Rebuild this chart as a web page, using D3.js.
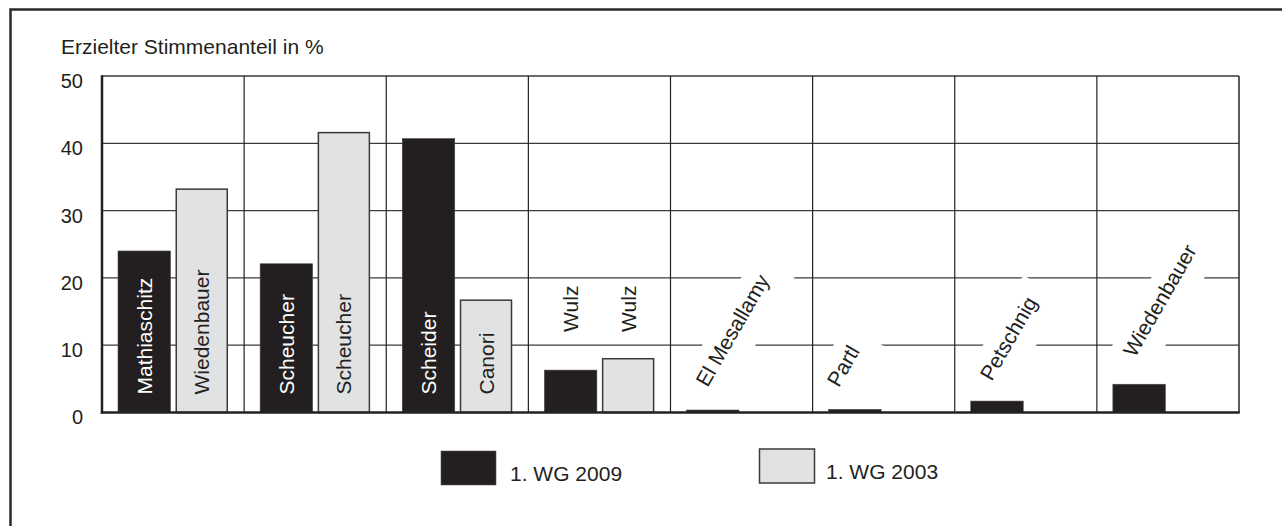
<!DOCTYPE html>
<html><head><meta charset="utf-8">
<script src="https://cdn.jsdelivr.net/npm/d3@7"></script>
<style>
body{margin:0;background:#fff}
text{font-family:"Liberation Sans",Arial,Helvetica,sans-serif}
</style>
</head><body>
<svg id="c" width="1282" height="526"></svg>
<script>
// ---------- data ----------
const groups = ["g1","g2","g3","g4","g5","g6","g7","g8"];
const names2009 = ["Mathiaschitz","Scheucher","Scheider","Wulz","El Mesallamy","Partl","Petschnig","Wiedenbauer"];
const names2003 = ["Wiedenbauer","Scheucher","Canori","Wulz",null,null,null,null];
const values2009 = [24.0, 22.1, 40.7, 6.3, 0.37, 0.47, 1.7, 4.2];
const values2003 = [33.3, 41.7, 16.8, 8.1, null, null, null, null];
const seriesNames = ["1. WG 2009", "1. WG 2003"];
const yTicks = [0, 10, 20, 30, 40, 50];
const axisTitle = "Erzielter Stimmenanteil in %";

// ---------- layout / style ----------
const labelMode = ["inside","inside","inside","above","angled","angled","angled","angled"];
const angledNudge = [null,null,null,null,[21,-22],[10,-21],[21,-19],[22,-26]];
const colors = {dark:"#231f20", light:"#e1e2e4", grid:"#3a3a3a", text:"#231f20"};
const plot = {left:102, right:1239, top:76, bottom:412.5};
const FS = 21;

const svg = d3.select("#c");

// outer frame
svg.append("rect").attr("x",10.5).attr("y",9.5).attr("width",1400).attr("height",700)
  .attr("fill","none").attr("stroke","#2a2a2a").attr("stroke-width",2.5);

const x0 = d3.scaleBand().domain(groups).range([plot.left, plot.right]).padding(0);
const x1 = d3.scaleBand().domain(["s2009","s2003"]).range([16, 126]).paddingInner(0.087).paddingOuter(0);
const y = d3.scaleLinear().domain([0, 50]).range([plot.bottom, plot.top]);

// title
svg.append("text").attr("x",61).attr("y",54).attr("font-size",FS).attr("fill",colors.text).text(axisTitle);

// horizontal gridlines
const gH = svg.append("g");
gH.selectAll("line").data(yTicks.filter(d=>d>0)).join("line")
  .attr("x1",plot.left).attr("x2",plot.right)
  .attr("y1",d=>y(d)).attr("y2",d=>y(d))
  .attr("stroke",colors.grid).attr("stroke-width",d=>d===50?1.6:1.2);

// y tick labels
const yAxis = d3.axisLeft(y).tickValues(yTicks).tickSize(0).tickPadding(0).tickFormat(d3.format("d"));
const ga = svg.append("g").attr("transform",`translate(${plot.left-19},5)`).call(yAxis);
ga.select(".domain").remove();
ga.selectAll("text").attr("font-size",20).attr("fill",colors.text)
  .attr("font-family",'"Liberation Sans",Arial,sans-serif');

// data records
const recs = groups.map((g,i)=>({g, i, n09:names2009[i], n03:names2003[i], v09:values2009[i], v03:values2003[i]}));

// angled labels with white bands (drawn over grid, under bars)
const gBand = svg.append("g");
const gAng = svg.append("g");
recs.forEach(r=>{
  if(labelMode[r.i]!=="angled") return;
  const bx = x0(r.g) + x1("s2009");
  const by = y(r.v09);
  const [dx,dy] = angledNudge[r.i];
  const sx = bx + dx, sy = by + dy;
  const t = gAng.append("text").attr("transform",`translate(${sx},${sy}) rotate(-60)`)
    .attr("font-size",FS).attr("fill",colors.text).text(r.n09);
  const len = t.node().getComputedTextLength();
  gBand.append("rect").attr("transform",`translate(${sx},${sy}) rotate(-60)`)
    .attr("x",-10).attr("y",-26).attr("width",len+26).attr("height",46).attr("fill","#fff");
});

// vertical gridlines
svg.append("g").selectAll("line").data(groups.slice(1)).join("line")
  .attr("x1",d=>x0(d)).attr("x2",d=>x0(d)).attr("y1",plot.top).attr("y2",plot.bottom)
  .attr("stroke","#222").attr("stroke-width",1.2);
svg.append("line").attr("x1",plot.right).attr("x2",plot.right).attr("y1",plot.top).attr("y2",plot.bottom)
  .attr("stroke","#333").attr("stroke-width",1.6);

// bars
const gBars = svg.append("g");
recs.forEach(r=>{
  if(r.v09!=null){
    gBars.append("rect").attr("x",x0(r.g)+x1("s2009")).attr("width",x1.bandwidth())
      .attr("y",y(r.v09)).attr("height",plot.bottom-y(r.v09))
      .attr("fill",colors.dark).attr("stroke","#4a4a4a").attr("stroke-width",0.6);
  }
  if(r.v03!=null){
    gBars.append("rect").attr("x",x0(r.g)+x1("s2003")+0.75).attr("width",x1.bandwidth()-1.5)
      .attr("y",y(r.v03)+0.75).attr("height",plot.bottom-y(r.v03)-0.75)
      .attr("fill",colors.light).attr("stroke","#3a3a3a").attr("stroke-width",1.5);
  }
});

// axes lines
svg.append("line").attr("x1",plot.left).attr("x2",plot.left).attr("y1",plot.top-0.8).attr("y2",plot.bottom+1.2)
  .attr("stroke","#222").attr("stroke-width",2.5);
svg.append("line").attr("x1",plot.left-1.2).attr("x2",plot.right+0.8).attr("y1",plot.bottom).attr("y2",plot.bottom)
  .attr("stroke","#222").attr("stroke-width",2.5);

// vertical labels
const gLab = svg.append("g");
recs.forEach(r=>{
  const items = [["s2009",r.n09,r.v09,"#fff"],["s2003",r.n03,r.v03,colors.text]];
  items.forEach(([s,name,v,col])=>{
    if(name==null) return;
    const mode = labelMode[r.i];
    if(mode==="angled") return;
    const cx = x0(r.g) + x1(s) + x1.bandwidth()/2;
    const sy = mode==="inside" ? plot.bottom-18 : y(20)+54;
    gLab.append("text").attr("transform",`translate(${cx},${sy}) rotate(-90)`)
      .attr("dy","0.36em").attr("font-size",FS)
      .attr("fill", mode==="inside" ? col : colors.text).text(name);
  });
});

// legend
const legendPos = [{x:441,y:451,tx:510,ty:481},{x:759.5,y:449,tx:826,ty:478.5}];
const gLeg = svg.append("g");
seriesNames.forEach((n,i)=>{
  const p = legendPos[i];
  gLeg.append("rect").attr("x",p.x).attr("y",p.y).attr("width",55).attr("height",34)
    .attr("fill", i===0?colors.dark:colors.light)
    .attr("stroke", i===0?"#555":"#3a3a3a").attr("stroke-width", i===0?0.6:1.5);
  gLeg.append("text").attr("x",p.tx).attr("y",p.ty).attr("font-size",FS).attr("fill",colors.text).text(n);
});
</script>
</body></html>
